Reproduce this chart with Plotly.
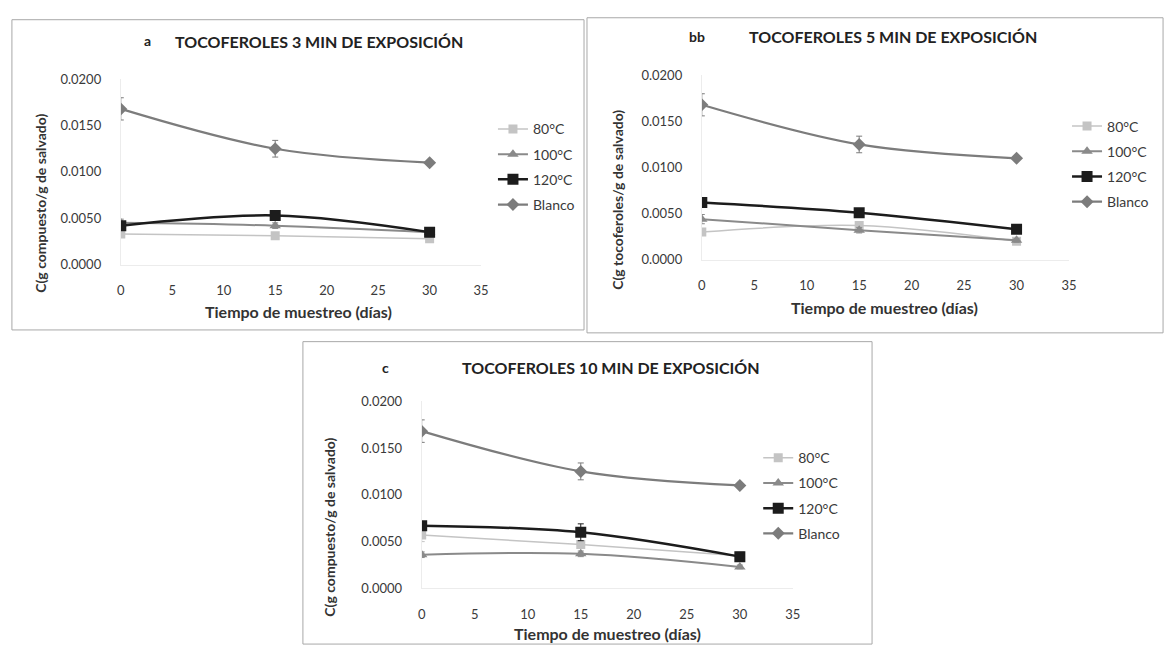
import plotly.graph_objects as go

# ---------------- data ----------------
dias = [0, 15, 30]
series_names = ["80°C", "100°C", "120°C", "Blanco"]

# Panel a: 3 min
a_80 = [0.0033, 0.0031, 0.0028]
a_100 = [0.0045, 0.0042, 0.0035]
a_120 = [0.0042, 0.0053, 0.0035]
a_blanco = [0.0168, 0.0125, 0.0110]
a_err_80 = [0.0003, 0.0003, 0.0002]
a_err_100 = [0.0004, 0.0003, 0.0002]
a_err_120 = [0.0003, 0.0003, 0.0002]
a_err_blanco = [0.0012, 0.0009, 0.0002]

# Panel b: 5 min
b_80 = [0.0030, 0.0037, 0.0020]
b_100 = [0.0044, 0.0032, 0.0021]
b_120 = [0.0062, 0.0051, 0.0033]
b_blanco = [0.0168, 0.0125, 0.0110]
b_err_80 = [0.0003, 0.0004, 0.0002]
b_err_100 = [0.0005, 0.0003, 0.0002]
b_err_120 = [0.0003, 0.0003, 0.0002]
b_err_blanco = [0.0012, 0.0009, 0.0002]

# Panel c: 10 min
c_80 = [0.0057, 0.0047, 0.0035]
c_100 = [0.0036, 0.0037, 0.0023]
c_120 = [0.0067, 0.0060, 0.0034]
c_blanco = [0.0168, 0.0125, 0.0110]
c_err_80 = [0.0007, 0.0004, 0.0003]
c_err_100 = [0.0003, 0.0003, 0.0002]
c_err_120 = [0.0003, 0.0009, 0.0003]
c_err_blanco = [0.0012, 0.0009, 0.0002]

titles = ["TOCOFEROLES 3 MIN DE EXPOSICIÓN", "TOCOFEROLES 5 MIN DE EXPOSICIÓN",
          "TOCOFEROLES 10 MIN DE EXPOSICIÓN"]
letters = ["a", "bb", "c"]
ytitles = ["C(g compuesto/g de salvado)", "C(g tocoferoles/g de salvado)",
           "C(g compuesto/g de salvado)"]
xtitle = "Tiempo de muestreo (días)"
x_ticks = [0, 5, 10, 15, 20, 25, 30, 35]
y_ticks = [0.0, 0.005, 0.010, 0.015, 0.020]

panels = [
    ([a_80, a_100, a_120, a_blanco], [a_err_80, a_err_100, a_err_120, a_err_blanco]),
    ([b_80, b_100, b_120, b_blanco], [b_err_80, b_err_100, b_err_120, b_err_blanco]),
    ([c_80, c_100, c_120, c_blanco], [c_err_80, c_err_100, c_err_120, c_err_blanco]),
]

# ---------------- style ----------------
W, H = 1176, 655
FONT = "Lato"
TXT = "#3a3a3a"
styles = [
    dict(color="#c4c4c4", symbol="square", size=9, width=1.5),
    dict(color="#8a8a8a", symbol="triangle-up", size=10, width=2),
    dict(color="#1c1c1c", symbol="square", size=11, width=2.5),
    dict(color="#7c7c7c", symbol="diamond", size=10, width=2.2),
]

# pixel layout per panel
geo = [
    dict(px=(118, 482), py=(73, 263), box=(8, 12, 586, 330),
         letter=(145, 33), title=(318, 34), ytitle=(36, 200), xtitle=(298, 311),
         legend=(494, 108)),
    dict(px=(705, 1076), py=(69, 258), box=(589, 10, 1171, 333),
         letter=(700, 29), title=(898, 29), ytitle=(620, 197), xtitle=(890, 307),
         legend=(1074, 105)),
    dict(px=(422, 797), py=(403, 595), box=(302, 342, 877, 652),
         letter=(385, 369), title=(613, 369), ytitle=(328, 532), xtitle=(610, 641),
         legend=(762, 445)),
]

def fx(p):
    return p / W

def fy(p):
    return 1 - p / H

fig = go.Figure()
layout = dict(width=W, height=H, margin=dict(l=0, r=0, t=0, b=0),
              paper_bgcolor="white", plot_bgcolor="white", showlegend=True,
              font=dict(family=FONT, color=TXT))
annotations = []
shapes = []

for i, ((vals, errs), g) in enumerate(zip(panels, geo)):
    sfx = "" if i == 0 else str(i + 1)
    xa, ya = "x" + sfx, "y" + sfx
    leg = "legend" + sfx
    for name, v, e, st in zip(series_names, vals, errs, styles):
        fig.add_trace(go.Scatter(
            x=dias, y=v, name=name, mode="lines+markers",
            xaxis=xa, yaxis=ya, legend=leg, legendgroup=name + sfx,
            line=dict(color=st["color"], width=st["width"], shape="spline", smoothing=1.0),
            marker=dict(color=st["color"], symbol=st["symbol"], size=st["size"]),
            error_y=dict(type="data", array=e, visible=True, color=st["color"],
                         thickness=1, width=3),
        ))
    layout["xaxis" + sfx] = dict(
        domain=[fx(g["px"][0]), fx(g["px"][1])], anchor=ya, range=[0, 35],
        tickvals=x_ticks, showgrid=False, zeroline=False,
        showline=True, linecolor="#ececec", linewidth=1,
        ticks="", tickfont=dict(size=13, color=TXT, family=FONT),
        ticklabelstandoff=14, fixedrange=True)
    layout["yaxis" + sfx] = dict(
        domain=[fy(g["py"][1]), fy(g["py"][0])], anchor=xa, range=[0, 0.02],
        tickvals=y_ticks, tickformat=".4f", showgrid=False, zeroline=False,
        showline=True, linecolor="#ececec", linewidth=1,
        ticks="", tickfont=dict(size=13, color=TXT, family=FONT),
        ticklabelstandoff=16, fixedrange=True)
    layout[leg] = dict(
        x=fx(g["legend"][0]), y=fy(g["legend"][1]), xanchor="left", yanchor="top",
        font=dict(size=14, color=TXT, family=FONT), bgcolor="rgba(0,0,0,0)",
        tracegroupgap=4, itemwidth=30, traceorder="grouped")
    bx0, by0, bx1, by1 = g["box"]
    shapes.append(dict(type="rect", xref="paper", yref="paper",
                       x0=fx(bx0), x1=fx(bx1), y0=fy(by1), y1=fy(by0),
                       line=dict(color="#a8a8a8", width=1), fillcolor="rgba(0,0,0,0)"))
    annotations.append(dict(text="<b>" + letters[i] + "</b>", x=fx(g["letter"][0]),
                            y=fy(g["letter"][1]), xref="paper", yref="paper",
                            showarrow=False, font=dict(size=14, color="#222"),
                            xanchor="center", yanchor="middle"))
    annotations.append(dict(text="<b>" + titles[i] + "</b>", x=fx(g["title"][0]),
                            y=fy(g["title"][1]), xref="paper", yref="paper",
                            showarrow=False, font=dict(size=16, color="#222"),
                            xanchor="center", yanchor="middle"))
    annotations.append(dict(text="<b>" + ytitles[i] + "</b>", x=fx(g["ytitle"][0]),
                            y=fy(g["ytitle"][1]), xref="paper", yref="paper",
                            showarrow=False, textangle=-90, font=dict(size=14, color="#333"),
                            xanchor="center", yanchor="middle"))
    annotations.append(dict(text="<b>" + xtitle + "</b>", x=fx(g["xtitle"][0]),
                            y=fy(g["xtitle"][1]), xref="paper", yref="paper",
                            showarrow=False, font=dict(size=16, color="#333"),
                            xanchor="center", yanchor="middle"))

layout["annotations"] = annotations
layout["shapes"] = shapes
fig.update_layout(**layout)
fig.write_html("out.html", config={"displayModeBar": False},
               post_script="document.body.style.margin='0';")
